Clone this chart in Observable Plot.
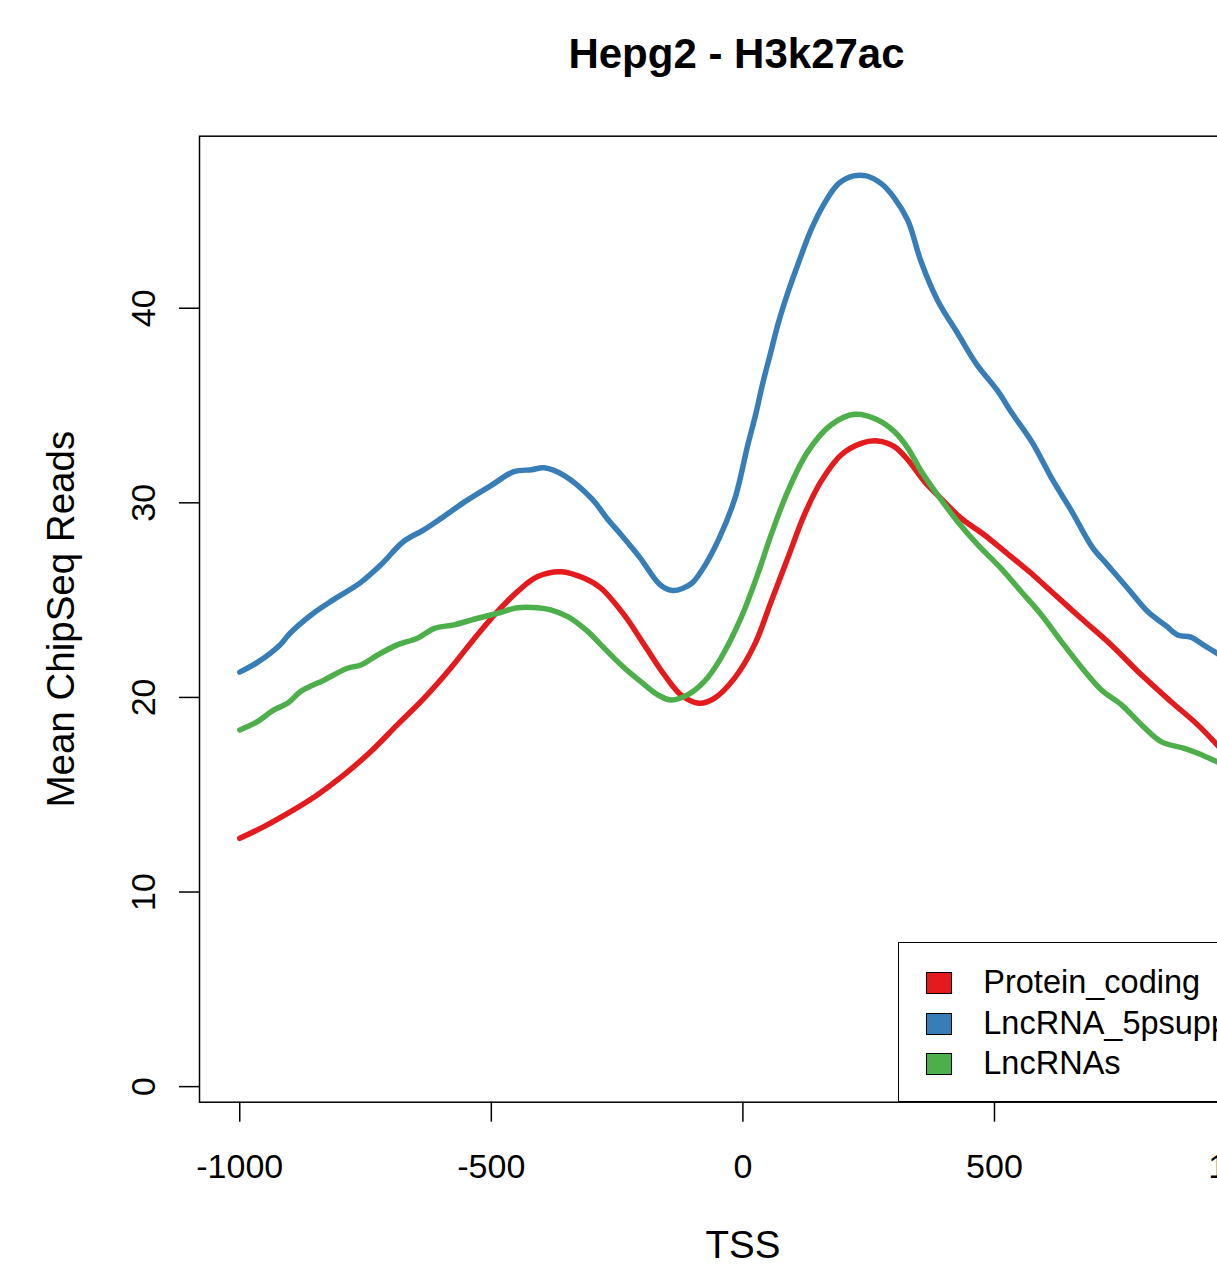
<!DOCTYPE html>
<html>
<head>
<meta charset="utf-8">
<script src="https://cdn.jsdelivr.net/npm/d3@7"></script>
<script src="https://cdn.jsdelivr.net/npm/@observablehq/plot@0.6"></script>
<style>
html, body { margin: 0; padding: 0; background: #fff; overflow: hidden; }
#wrap { position: relative; width: 1217px; height: 1276px; overflow: hidden; font-family: "Liberation Sans", Arial, Helvetica, sans-serif; color: #000; }
#chart { position: absolute; left: 0; top: 0; }
#title { position: absolute; top: 32.5px; left: 0; width: 1473px; text-align: center; font-weight: bold; font-size: 42px; line-height: 42px; white-space: nowrap; }
#legend { position: absolute; left: 898.3px; top: 941.7px; width: 387.5px; height: 160px; border: 1.5px solid #000; background: #fff; box-sizing: border-box; }
.row { position: absolute; left: 27px; height: 22px; display: flex; align-items: center; }
.sw { width: 26px; height: 22px; border: 1.5px solid #000; box-sizing: border-box; margin-right: 31px; flex: none; }
.lab { font-size: 32.5px; line-height: 32.5px; white-space: nowrap; }
</style>
</head>
<body>
<div id="wrap">
  <div id="chart"></div>
  <div id="title">Hepg2 - H3k27ac</div>
  <div id="legend"></div>
</div>
<script>
// ---- data ----
const seriesNames = ["Protein_coding", "LncRNA_5psupp", "LncRNAs"];
const seriesColors = ["#E41A1C", "#377EB8", "#4DAF4A"];
const xTicks = [-1000, -500, 0, 500, 1000];
const yTicks = [0, 10, 20, 30, 40];

const proteinX = [-1000,-952,-899,-846,-793,-740,-687,-634,-581,-528,-488,-448,-408,-361,-315,-282,-236,-196,-156,-123,-87,-57,-17,23,56,89,122,155,195,235,268,301,328,361,400,434,480,513,553,573,613,672,732,792,851,904,950];
const proteinY = [12.76,13.36,14.13,14.99,16.02,17.21,18.59,19.95,21.50,23.21,24.41,25.44,26.21,26.46,26.12,25.61,24.24,22.70,21.16,20.13,19.70,19.95,20.98,22.70,24.92,27.15,29.38,31.09,32.46,33.06,33.18,32.89,32.20,31.09,30.06,29.20,28.35,27.66,26.81,26.38,25.44,24.07,22.70,21.16,19.78,18.59,17.35];

const supportedX = [-1000,-965,-920,-900,-855,-815,-760,-720,-675,-635,-600,-550,-500,-455,-420,-395,-355,-300,-270,-240,-205,-165,-140,-120,-100,-75,-45,-15,10,25,40,55,70,90,110,135,160,190,220,245,275,300,328,354,387,427,465,505,535,575,615,655,695,725,765,805,840,865,890,915,950];
const supportedY = [21.3,21.8,22.7,23.3,24.3,25.0,25.9,26.8,28.0,28.6,29.2,30.1,30.9,31.6,31.7,31.8,31.4,30.2,29.2,28.3,27.2,25.8,25.5,25.6,25.9,26.8,28.3,30.3,33.0,34.5,36.2,37.7,39.2,40.85,42.3,44.0,45.3,46.4,46.8,46.8,46.4,45.7,44.5,42.4,40.4,38.7,37.1,35.8,34.6,33.1,31.2,29.5,27.7,26.8,25.6,24.4,23.7,23.2,23.1,22.7,22.15];

const lncX = [-1000,-965,-932,-905,-879,-832,-786,-759,-726,-687,-647,-613,-574,-527,-488,-448,-408,-382,-348,-308,-282,-242,-203,-169,-143,-110,-77,-44,-4,29,56,89,129,175,222,268,301,328,355,387,427,467,513,553,593,633,672,712,752,792,831,877,904,950];
const lncY = [18.33,18.76,19.36,19.70,20.30,20.90,21.50,21.67,22.18,22.70,23.04,23.55,23.73,24.07,24.32,24.61,24.61,24.50,24.15,23.38,22.70,21.67,20.81,20.13,19.87,20.13,20.81,22.01,24.07,26.30,28.35,30.58,32.63,34.00,34.55,34.26,33.66,32.80,31.60,30.41,29.03,27.84,26.63,25.44,24.25,22.87,21.58,20.40,19.63,18.60,17.73,17.38,17.13,16.60];

const xLabel = "TSS";
const yLabel = "Mean ChipSeq Reads";

// ---- build table ----
const seriesX = [proteinX, supportedX, lncX];
const seriesY = [proteinY, supportedY, lncY];
const rows = seriesNames.flatMap((name, s) => seriesX[s].map((x, i) => ({x, y: seriesY[s][i], name})));

const font = "'Liberation Sans', Arial, Helvetica, sans-serif";

const chart = Plot.plot({
  width: 1290,
  height: 1276,
  marginLeft: 199,
  marginRight: 4.2,
  marginTop: 135.7,
  marginBottom: 174.3,
  x: {domain: [-1080, 1080]},
  y: {domain: [-0.8, 48.84]},
  color: {domain: seriesNames, range: seriesColors},
  style: {fontFamily: font, fontSize: "34px", background: "transparent", color: "#000", maxWidth: "none", overflow: "visible"},
  marks: [
    Plot.frame({stroke: "#000", strokeWidth: 1.5}),
    Plot.axisX({ticks: xTicks, tickSize: 20, tickPadding: 31.6, tickFormat: d => String(d), label: null, stroke: "#000", strokeWidth: 1.5, fill: "#000"}),
    Plot.axisY({ticks: yTicks, tickSize: 20, tickFormat: () => "", label: null, stroke: "#000", strokeWidth: 1.5}),
    Plot.text(yTicks, {y: d => d, text: d => String(d), frameAnchor: "left", dx: -55, rotate: -90, textAnchor: "middle", lineAnchor: "middle", fontSize: 34, fill: "#000"}),
    Plot.text([xLabel], {text: d => d, frameAnchor: "bottom", dy: 143.3, lineAnchor: "middle", fontSize: 38.5, fill: "#000"}),
    Plot.text([yLabel], {text: d => d, frameAnchor: "left", dx: -137.5, rotate: -90, textAnchor: "middle", lineAnchor: "middle", fontSize: 38.5, fill: "#000"}),
    Plot.line(rows, {x: "x", y: "y", z: "name", stroke: "name", strokeWidth: 5.5, curve: "catmull-rom"})
  ]
});
document.getElementById("chart").appendChild(chart);

// ---- legend (R-style box, bottom right) ----
const legend = document.getElementById("legend");
const rowTops = [29, 70, 110];
seriesNames.forEach((name, i) => {
  const r = document.createElement("div");
  r.className = "row";
  r.style.top = rowTops[i] + "px";
  const sw = document.createElement("div");
  sw.className = "sw";
  sw.style.background = seriesColors[i];
  const lab = document.createElement("span");
  lab.className = "lab";
  lab.textContent = name;
  r.appendChild(sw);
  r.appendChild(lab);
  legend.appendChild(r);
});
</script>
</body>
</html>
